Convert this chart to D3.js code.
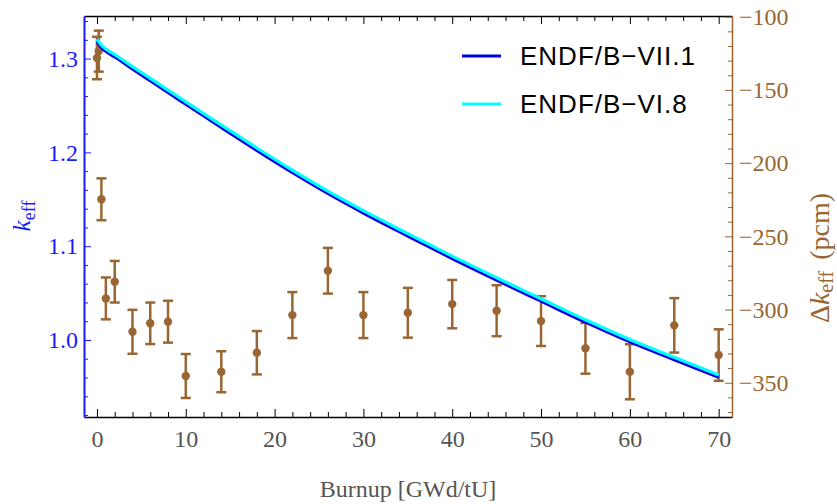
<!DOCTYPE html>
<html>
<head>
<meta charset="utf-8">
<script src="https://cdn.jsdelivr.net/npm/d3@7"></script>
<style>
  body { margin: 0; background: #fff; }
  svg { display: block; }
  .tick text { font-family: "Liberation Serif", "DejaVu Serif", serif; font-size: 24px; }
</style>
</head>
<body>
<svg id="chart" width="837" height="504"></svg>
<script>
// k_eff curves
var burnupLine = [0, 0.2, 0.5, 1, 1.5, 2, 4, 6, 8, 10, 14, 18, 22, 26, 30, 35, 40, 45, 50, 55, 60, 65, 70];
var keffVII1 = [1.3185, 1.3155, 1.3118, 1.3078, 1.3046, 1.3017, 1.2890, 1.2764, 1.2638, 1.2514, 1.2266, 1.2022,
                1.1786, 1.1562, 1.1354, 1.1109, 1.0869, 1.0639, 1.0414, 1.0190, 0.9980, 0.9790, 0.9602];
var keffVI8 = [1.3207, 1.3178, 1.3142, 1.3103, 1.3071, 1.3042, 1.2915, 1.2789, 1.2663, 1.2539, 1.2291, 1.2047,
               1.1811, 1.1587, 1.1379, 1.1134, 1.0894, 1.0664, 1.0439, 1.0215, 1.0005, 0.9815, 0.9627];

// delta k_eff (pcm) with error bars
var burnupPts = [0, 0.2, 0.5, 1, 2, 4, 6, 8, 10, 14, 18, 22, 26, 30, 35, 40, 45, 50, 55, 60, 65, 70];
var deltaPcm = [-128.2, -123.5, -224.7, -292.4, -281.0, -315.2, -309.4, -308.3, -345.4, -342.5, -329.5,
                -303.8, -273.5, -303.8, -302.2, -296.3, -300.8, -307.9, -326.5, -342.5, -310.8, -331.1];
var errPcm = [14.5, 14.0, 14.3, 14.3, 14.2, 15.0, 14.2, 14.3, 15.0, 14.0, 14.8,
              15.7, 15.6, 15.7, 17.0, 16.5, 17.4, 17.0, 17.3, 18.8, 18.6, 17.6];

var seriesNames = ["ENDF/B\u2212VII.1", "ENDF/B\u2212VI.8"];
var seriesColors = ["#0000e6", "#00ffff"];

var xTicks = [0, 10, 20, 30, 40, 50, 60, 70];
var kTicks = [1.0, 1.1, 1.2, 1.3];
var dTicks = [-350, -300, -250, -200, -150, -100];

var blue = "#1a1aff", brown = "#996633", gray = "#555";

var svg = d3.select("#chart"),
    pLeft = 84, pRight = 732, pTop = 16, pBottom = 417;

var x = d3.scaleLinear().domain([-1.46, 71.5]).range([pLeft, pRight]);
var yL = d3.scaleLinear().domain([0.9179, 1.3454]).range([pBottom, pTop]);
var yR = d3.scaleLinear().domain([-373.4, -99.5]).range([pBottom, pTop]);

var xMinor = d3.range(0, 71, 2).filter(d => d % 10 !== 0);
var kMinor = d3.range(46, 68).map(d => d / 50).filter(d => Math.abs(d * 10 - Math.round(d * 10)) > 1e-6);
var dMinor = d3.range(-370, -99, 10).filter(d => d % 50 !== 0);

// bottom axis
svg.append("g").attr("transform", "translate(0," + pBottom + ")").attr("color", "#000")
    .call(d3.axisBottom(x).tickValues(xTicks).tickSize(-8).tickSizeOuter(0).tickPadding(13).tickFormat(d3.format("d")))
    .call(g => g.selectAll("text").attr("fill", gray))
    .call(g => g.select(".domain").attr("stroke-width", 1.5));
svg.append("g").attr("transform", "translate(0," + pBottom + ")").attr("color", "#000")
    .call(d3.axisBottom(x).tickValues(xMinor).tickSize(-5).tickSizeOuter(0).tickFormat(""))
    .call(g => g.select(".domain").remove());

// top axis
svg.append("g").attr("transform", "translate(0," + pTop + ")").attr("color", "#000")
    .call(d3.axisTop(x).tickValues(xTicks).tickSize(-8).tickSizeOuter(0).tickFormat(""))
    .call(g => g.select(".domain").attr("stroke-width", 1.5));
svg.append("g").attr("transform", "translate(0," + pTop + ")").attr("color", "#000")
    .call(d3.axisTop(x).tickValues(xMinor).tickSize(-5).tickSizeOuter(0).tickFormat(""))
    .call(g => g.select(".domain").remove());

// left axis (k_eff)
svg.append("g").attr("transform", "translate(" + pLeft + ",0)").attr("color", blue)
    .call(d3.axisLeft(yL).tickValues(kTicks).tickSize(-7).tickSizeOuter(0).tickPadding(6).tickFormat(d3.format(".1f")))
    .call(g => g.select(".domain").attr("stroke-width", 2));
svg.append("g").attr("transform", "translate(" + pLeft + ",0)").attr("color", blue)
    .call(d3.axisLeft(yL).tickValues(kMinor).tickSize(-4).tickSizeOuter(0).tickFormat(""))
    .call(g => g.select(".domain").remove());

// right axis (delta k)
svg.append("g").attr("transform", "translate(" + pRight + ",0)").attr("color", brown)
    .call(d3.axisRight(yR).tickValues(dTicks).tickSize(-7).tickSizeOuter(0).tickPadding(7).tickFormat(d3.format("d")))
    .call(g => g.select(".domain").attr("stroke-width", 1.5));
svg.append("g").attr("transform", "translate(" + pRight + ",0)").attr("color", brown)
    .call(d3.axisRight(yR).tickValues(dMinor).tickSize(-4).tickSizeOuter(0).tickFormat(""))
    .call(g => g.select(".domain").remove());

// error bars
var pts = burnupPts.map((b, i) => ({b: b, d: deltaPcm[i], e: errPcm[i]}));
var eb = svg.append("g").attr("stroke", brown).attr("fill", brown);
eb.selectAll("line.v").data(pts).join("line").attr("class", "v")
    .attr("x1", d => x(d.b)).attr("x2", d => x(d.b))
    .attr("y1", d => yR(d.d - d.e)).attr("y2", d => yR(d.d + d.e))
    .attr("stroke-width", 2.5);
eb.selectAll("line.t").data(pts).join("line").attr("class", "t")
    .attr("x1", d => x(d.b) - 5).attr("x2", d => x(d.b) + 5)
    .attr("y1", d => yR(d.d + d.e)).attr("y2", d => yR(d.d + d.e))
    .attr("stroke-width", 2.5);
eb.selectAll("line.b").data(pts).join("line").attr("class", "b")
    .attr("x1", d => x(d.b) - 5).attr("x2", d => x(d.b) + 5)
    .attr("y1", d => yR(d.d - d.e)).attr("y2", d => yR(d.d - d.e))
    .attr("stroke-width", 2.5);
eb.selectAll("circle").data(pts).join("circle")
    .attr("cx", d => x(d.b)).attr("cy", d => yR(d.d)).attr("r", 4.2).attr("stroke", "none");

// k_eff lines
var line = d3.line()
    .x((d, i) => x(burnupLine[i]))
    .y(d => yL(d))
    .curve(d3.curveMonotoneX);

[keffVII1, keffVI8].forEach((s, i) => {
    svg.append("path").datum(s)
        .attr("fill", "none")
        .attr("stroke", seriesColors[i])
        .attr("stroke-width", 3.2)
        .attr("d", line);
});

// legend
var leg = svg.append("g");
seriesNames.forEach((name, i) => {
    var ly = 56 + i * 48;
    leg.append("line").attr("x1", 462).attr("x2", 501).attr("y1", ly).attr("y2", ly)
        .attr("stroke", seriesColors[i]).attr("stroke-width", 3);
    leg.append("text").attr("x", 520).attr("y", ly).attr("dy", "0.36em")
        .attr("font-family", "Liberation Sans, Arial, sans-serif").attr("font-size", 26)
        .attr("letter-spacing", 1).attr("fill", "#000").text(name);
});

// axis titles
svg.append("text").attr("x", (pLeft + pRight) / 2).attr("y", 497)
    .attr("text-anchor", "middle").attr("fill", gray)
    .attr("font-family", "Liberation Serif, serif").attr("font-size", 24)
    .text("Burnup [GWd/tU]");

var kl = svg.append("text").attr("transform", "translate(30,216) rotate(-90)")
    .attr("text-anchor", "middle").attr("fill", blue)
    .attr("font-family", "Liberation Serif, serif").attr("font-size", 25);
kl.append("tspan").attr("font-style", "italic").text("k");
kl.append("tspan").attr("font-size", 18).attr("dy", 5).text("eff");

var dl = svg.append("text").attr("transform", "translate(829,258) rotate(-90)")
    .attr("text-anchor", "middle").attr("fill", brown)
    .attr("font-family", "Liberation Serif, serif").attr("font-size", 28);
dl.append("tspan").text("\u0394");
dl.append("tspan").attr("font-style", "italic").text("k");
dl.append("tspan").attr("font-size", 20).attr("dy", 4).text("eff");
dl.append("tspan").attr("dy", -4).attr("dx", 4).text(" (pcm)");
</script>
</body>
</html>
